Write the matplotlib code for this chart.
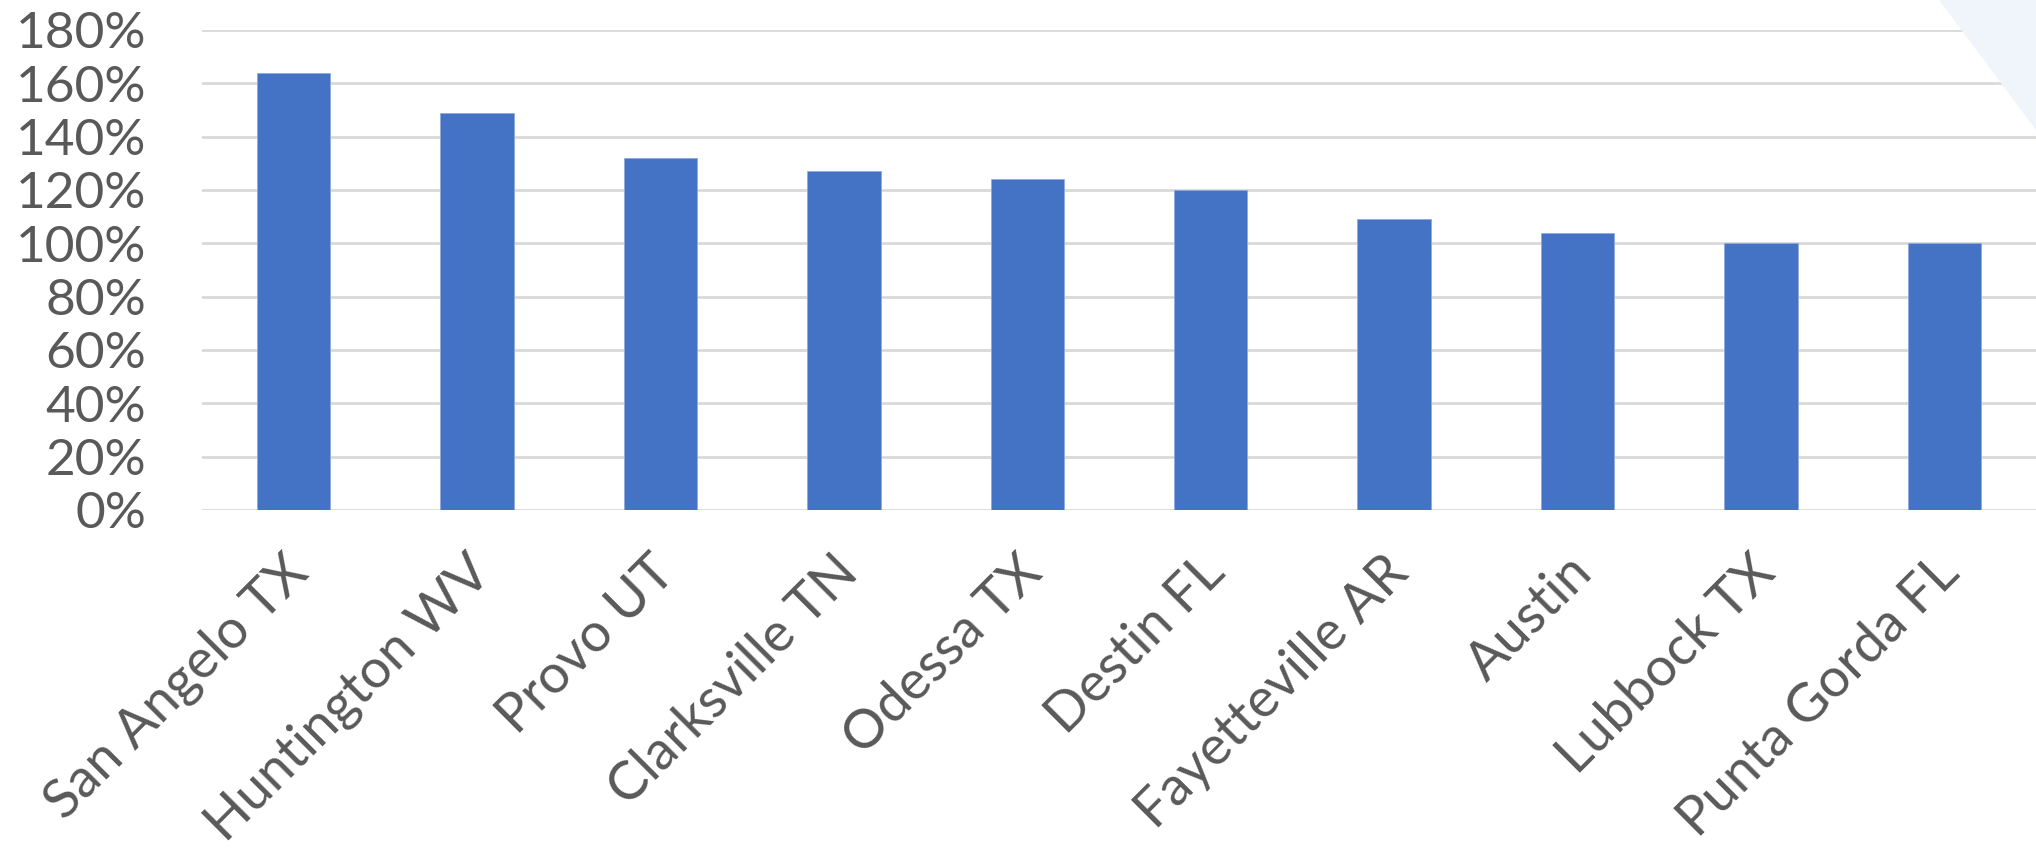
import numpy as np
import matplotlib.pyplot as plt
from matplotlib.patches import Polygon
from matplotlib.transforms import ScaledTranslation

# Metro areas and their percentage values
cities = ['San Angelo TX', 'Huntington WV', 'Provo UT', 'Clarksville TN', 'Odessa TX',
          'Destin FL', 'Fayetteville AR', 'Austin', 'Lubbock TX', 'Punta Gorda FL']
values = [164, 149, 132, 127, 124, 120, 109, 104, 100, 100]
yticks = [0, 20, 40, 60, 80, 100, 120, 140, 160, 180]

plt.rcParams['font.family'] = ['Lato', 'DejaVu Sans']
text_color = '#595959'

fig = plt.figure(figsize=(20.36, 8.5), dpi=100)

# pale corner decoration behind the plot
fig.patches.append(Polygon([(1939/2036, 1.0), (1.0, 1.0), (1.0, 1 - 130/850)],
                           closed=True, transform=fig.transFigure,
                           facecolor='#F0F5FB', edgecolor='none', zorder=0))

ax = fig.add_axes([202/2036, 340/850, 1 - 202/2036, 480/850])
ax.patch.set_alpha(0)

x = np.arange(len(cities))
ax.bar(x, values, width=0.4, color='#4472C4', edgecolor='#8FAADC', linewidth=0.6, zorder=3)

ax.set_ylim(0, 180)
ax.set_xlim(-0.5, len(cities) - 0.5)
ax.set_yticks(yticks)
ax.set_yticklabels([f'{t}%' for t in yticks])
ax.yaxis.grid(True, color='#D9D9D9', linewidth=2, zorder=0)
ax.set_axisbelow(True)

for s in ax.spines.values():
    s.set_visible(False)

ax.tick_params(axis='y', length=0, pad=40, labelsize=37, labelcolor=text_color)
ax.tick_params(axis='x', length=0, pad=39, labelsize=39, labelcolor=text_color)

ax.set_xticks(x)
ax.set_xticklabels(cities, rotation=45, ha='right', va='center', rotation_mode='anchor')
shift = ScaledTranslation(6/100, 0, fig.dpi_scale_trans)
for lab in ax.get_xticklabels():
    lab.set_transform(lab.get_transform() + shift)

fig.savefig('out.png', dpi=100)
